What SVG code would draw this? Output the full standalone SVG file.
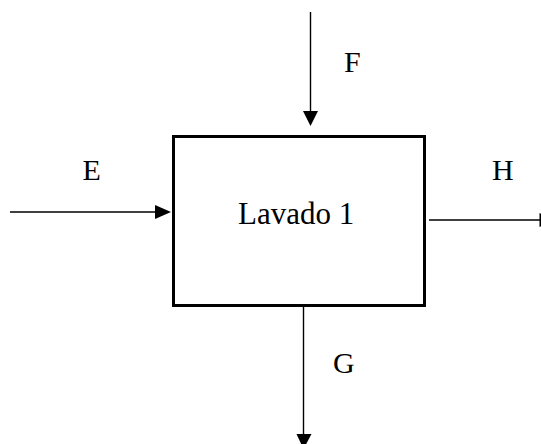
<svg xmlns="http://www.w3.org/2000/svg" width="541" height="444" viewBox="0 0 541 444">
  <style>
    .lbl { font-family: "Liberation Serif", "Times New Roman", serif; font-size: 30px; fill: #000; }
    .flow { stroke: #000; stroke-width: 1.4; fill: none; }
    .head { fill: #000; stroke: none; }
  </style>
  <rect width="541" height="444" fill="#fff"/>

  <g id="lavado1">
    <rect x="173.5" y="136.5" width="251" height="169" fill="#fff" stroke="#000" stroke-width="3"/>
    <text class="lbl" x="238" y="224" style="font-size:31px">Lavado 1</text>
  </g>

  <g id="connectors">
    <!-- E: inlet from the left -->
    <line class="flow" x1="10" y1="212" x2="157" y2="212"/>
    <polygon class="head" points="171,212 155,205 155,219"/>
    <!-- F: inlet from the top -->
    <line class="flow" x1="310.5" y1="12" x2="310.5" y2="113"/>
    <polygon class="head" points="310.5,126 303,111 318,111"/>
    <!-- G: outlet at the bottom -->
    <line class="flow" x1="303.5" y1="306" x2="303.5" y2="436"/>
    <polygon class="head" points="303.5,449 296.5,434 311.5,434"/>
    <!-- H: outlet to the right -->
    <line class="flow" x1="429" y1="220" x2="540" y2="220"/>
    <polygon class="head" points="555,220 539.5,213 539.5,227"/>
  </g>

  <g id="labels">
    <text class="lbl" x="82.5" y="180">E</text>
    <text class="lbl" x="344" y="72">F</text>
    <text class="lbl" x="333" y="373">G</text>
    <text class="lbl" x="492" y="180">H</text>
  </g>
</svg>
